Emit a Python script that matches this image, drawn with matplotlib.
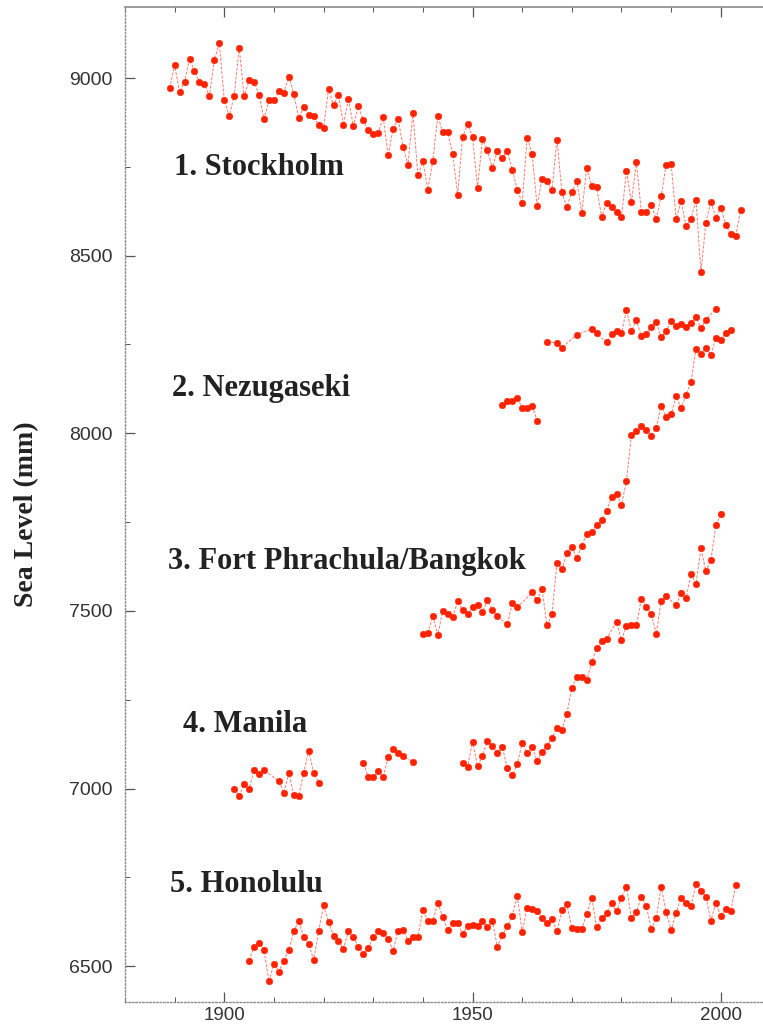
import numpy as np
import matplotlib
matplotlib.use("Agg")
import matplotlib.pyplot as plt
from matplotlib.ticker import MultipleLocator

# ── Palette / fonts ──────────────────────────────────────────────────────────
C_DOT   = "#ff2200"
C_LINE  = "#ff5a4a"
C_TEXT  = "#222222"
C_SPINE = "#8a8a8a"
SERIF   = ["Liberation Serif", "DejaVu Serif"]
SANS    = ["Liberation Sans", "DejaVu Sans"]

# ── Data (annual mean sea level, mm) ─────────────────────────────────────────
stockholm_years = np.arange(1889, 2005)
stockholm_mm = [
    8971, 9036, 8960, 8990, 9053, 9019, 8990, 8982, 8950, 9051,
    9098, 8938, 8893, 8950, 9085, 8949, 8994, 8990, 8952, 8885,
    8937, 8937, 8963, 8959, 9004, 8954, 8888, 8918, 8897, 8893,
    8867, 8859, 8969, 8924, 8952, 8868, 8942, 8865, 8920, 8881,
    8854, 8843, 8845, 8890, 8782, 8857, 8886, 8807, 8756, 8902,
    8726, 8766, 8686, 8767, 8892, 8848, 8848, 8787, 8672, 8834,
    8870, 8834, 8691, 8828, 8797, 8746, 8795, 8776, 8795, 8742,
    8686, 8648, 8832, 8787, 8640, 8717, 8710, 8686, 8827, 8678,
    8637, 8679, 8711, 8620, 8747, 8696, 8693, 8609, 8648, 8637,
    8623, 8609, 8738, 8651, 8763, 8623, 8623, 8642, 8603, 8669,
    8756, 8759, 8603, 8653, 8584, 8603, 8657, 8453, 8593, 8652,
    8607, 8635, 8587, 8560, 8555, 8629,
]

nezu_early_years = [1956, 1957, 1958, 1959, 1960, 1961, 1962, 1963]
nezu_early_mm    = [8081, 8090, 8090, 8100, 8072, 8070, 8078, 8036]
nezu_years = [1965, 1967, 1968, 1971, 1974, 1975, 1977, 1978, 1979, 1980,
              1981, 1982, 1983, 1984, 1985, 1986, 1987, 1988, 1989, 1990,
              1991, 1992, 1993, 1994, 1995, 1996, 1997, 1999]
nezu_mm    = [8258, 8254, 8241, 8278, 8294, 8281, 8256, 8280, 8289, 8282,
              8347, 8289, 8318, 8273, 8280, 8298, 8312, 8270, 8288, 8315,
              8301, 8308, 8298, 8311, 8328, 8296, 8320, 8351]

bangkok_years = [1940, 1941, 1942, 1943, 1944, 1945, 1946, 1947, 1948, 1949,
                 1950, 1951, 1952, 1953, 1954, 1955, 1957, 1958, 1959, 1962,
                 1963, 1964, 1965, 1966, 1967, 1968, 1969, 1970, 1971, 1972,
                 1973, 1974, 1975, 1976, 1977, 1978, 1979, 1980, 1981, 1982,
                 1983, 1984, 1985, 1986, 1987, 1988, 1989, 1990, 1991, 1992,
                 1993, 1994, 1995, 1996, 1997, 1998, 1999, 2000, 2001, 2002]
bangkok_mm    = [7436, 7439, 7485, 7432, 7501, 7491, 7482, 7527, 7503, 7491,
                 7510, 7516, 7497, 7530, 7504, 7485, 7462, 7521, 7510, 7552,
                 7530, 7561, 7460, 7490, 7634, 7618, 7662, 7681, 7649, 7684,
                 7717, 7721, 7743, 7757, 7781, 7821, 7830, 7798, 7867, 7994,
                 8007, 8020, 8010, 7993, 8016, 8078, 8046, 8053, 8104, 8072,
                 8108, 8145, 8238, 8223, 8241, 8221, 8268, 8263, 8282, 8292]

manila_a_years = [1902, 1903, 1904, 1905, 1906, 1907, 1908, 1911, 1912, 1913,
                  1914, 1915, 1916, 1917, 1918, 1919]
manila_a_mm    = [7000, 6979, 7013, 7000, 7052, 7042, 7052, 7021, 6988, 7043,
                  6982, 6979, 7045, 7106, 7044, 7017]
manila_b_years = [1928, 1929, 1930, 1931, 1932, 1933, 1934, 1935, 1936, 1938]
manila_b_mm    = [7071, 7033, 7033, 7050, 7033, 7089, 7110, 7099, 7092, 7075]
manila_c_years = [1948, 1949, 1950, 1951, 1952, 1953, 1954, 1955, 1956, 1957,
                  1958, 1959, 1960, 1961, 1962, 1963, 1964, 1965, 1966, 1967,
                  1968, 1969, 1970, 1971, 1972, 1973, 1974, 1975, 1976, 1977,
                  1979, 1980, 1981, 1982, 1983, 1984, 1985, 1986, 1987, 1988,
                  1989, 1991, 1992, 1993, 1994, 1995, 1996, 1997, 1998, 1999,
                  2000]
manila_c_mm    = [7071, 7061, 7132, 7063, 7091, 7135, 7120, 7101, 7118, 7057,
                  7038, 7068, 7129, 7101, 7118, 7078, 7104, 7120, 7143, 7171,
                  7166, 7211, 7284, 7314, 7314, 7305, 7356, 7396, 7415, 7421,
                  7469, 7418, 7458, 7460, 7460, 7534, 7512, 7491, 7435, 7528,
                  7541, 7516, 7550, 7536, 7604, 7576, 7676, 7612, 7643, 7741,
                  7772]

honolulu_years = np.arange(1905, 2004)
honolulu_mm = [
    6516, 6555, 6565, 6546, 6457, 6507, 6485, 6516, 6546, 6598,
    6628, 6582, 6562, 6518, 6598, 6671, 6624, 6586, 6572, 6549,
    6598, 6582, 6555, 6535, 6551, 6582, 6598, 6593, 6577, 6544,
    6600, 6602, 6572, 6582, 6582, 6658, 6628, 6628, 6679, 6638,
    6602, 6621, 6621, 6591, 6614, 6616, 6614, 6628, 6610, 6628,
    6554, 6588, 6612, 6642, 6699, 6596, 6665, 6660, 6656, 6635,
    6621, 6633, 6598, 6657, 6674, 6607, 6604, 6605, 6646, 6693,
    6610, 6635, 6651, 6677, 6654, 6693, 6724, 6635, 6652, 6696,
    6670, 6604, 6635, 6724, 6652, 6602, 6651, 6693, 6677, 6670,
    6731, 6713, 6696, 6628, 6677, 6642, 6661, 6654, 6729,
]

# label text, x (year), y (mm, baseline)
labels = [
    ("1. Stockholm",                1889.9, 8727),
    ("2. Nezugaseki",               1889.5, 8106),
    ("3. Fort Phrachula/Bangkok",   1888.7, 7617),
    ("4. Manila",                   1891.7, 7160),
    ("5. Honolulu",                 1889.1, 6710),
]

# ── Figure ───────────────────────────────────────────────────────────────────
fig = plt.figure(figsize=(7.63, 10.29), dpi=100)
ax = fig.add_axes([0.1638, 0.0265, 0.8362, 0.9667])

segments = [
    (stockholm_years, stockholm_mm),
    (nezu_early_years, nezu_early_mm),
    (nezu_years, nezu_mm),
    (bangkok_years, bangkok_mm),
    (manila_a_years, manila_a_mm),
    (manila_b_years, manila_b_mm),
    (manila_c_years, manila_c_mm),
    (honolulu_years, honolulu_mm),
]
for yrs, vals in segments:
    ax.plot(yrs, vals, color=C_LINE, lw=0.7, ls=(0, (3, 1.5)), alpha=0.8, zorder=2)
    ax.plot(yrs, vals, ls="none", marker="o", ms=4.8, mfc=C_DOT, mec=C_DOT,
            mew=0.3, zorder=3)

for txt, x, y in labels:
    ax.text(x, y, txt, family=SERIF, fontweight="bold", fontsize=22,
            color=C_TEXT, ha="left", va="baseline")

ax.set_xlim(1880, 2008.5)
ax.set_ylim(6400, 9200)

ax.xaxis.set_major_locator(MultipleLocator(50))
ax.xaxis.set_minor_locator(MultipleLocator(10))
ax.yaxis.set_major_locator(MultipleLocator(500))
ax.yaxis.set_minor_locator(MultipleLocator(250))
ax.tick_params(axis="x", which="both", direction="in", top=True, bottom=True,
               colors="#555555", labelcolor="#333333")
ax.tick_params(axis="y", which="both", direction="in", left=True, right=False,
               colors="#555555", labelcolor="#333333")
ax.tick_params(which="major", length=7, width=0.9)
ax.tick_params(which="minor", length=3.5, width=0.7)
ax.tick_params(axis="x", which="major", pad=4, labelsize=13.5)
ax.tick_params(axis="y", which="major", pad=9, labelsize=14)
for lab in ax.get_xticklabels() + ax.get_yticklabels():
    lab.set_family(SANS)

ax.spines["right"].set_visible(False)
ax.spines["top"].set_color(C_SPINE)
ax.spines["top"].set_linewidth(1.2)
for side in ("left", "bottom"):
    ax.spines[side].set_color(C_SPINE)
    ax.spines[side].set_linewidth(1.0)
    ax.spines[side].set_linestyle((0, (1, 1.5)))

ax.set_ylabel("Sea Level (mm)", family=SERIF, fontweight="bold", fontsize=20,
              color=C_TEXT, labelpad=12)
ax.yaxis.set_label_coords(-0.135, 0.49)

fig.savefig("out.png", dpi=100)
plt.close(fig)
